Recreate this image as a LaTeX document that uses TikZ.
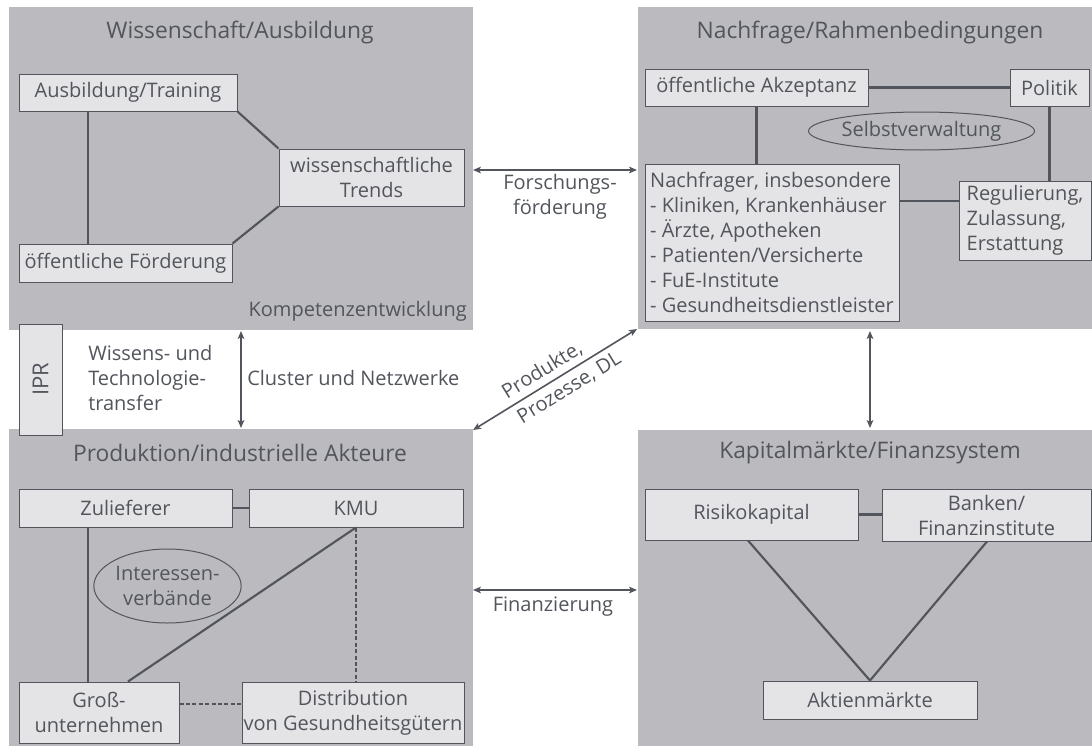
\documentclass[tikz,border=0pt]{standalone}
\usepackage{fontspec}
\setmainfont{Open Sans}
\usetikzlibrary{arrows.meta,shapes.geometric}
\definecolor{panel}{HTML}{BBBBBF}
\definecolor{boxfill}{HTML}{E4E4E6}
\definecolor{ink}{HTML}{52555C}
\newcommand{\bodyf}{\fontsize{15}{18.75}\selectfont}
\newcommand{\titlef}{\fontsize{17.1}{21}\selectfont}
\begin{document}
\begin{tikzpicture}[x=0.75pt,y=-0.75pt,
  panelbox/.style={fill=panel,draw=none},
  box/.style={draw=ink,fill=boxfill,line width=0.75pt,inner sep=0pt,text=ink,font=\bodyf,align=center},
  oval/.style={ellipse,draw=ink,line width=0.75pt,inner sep=0pt,text=ink,font=\bodyf,align=center},
  ttl/.style={text=ink,font=\titlef,inner sep=0pt},
  lbl/.style={text=ink,font=\bodyf,inner sep=0pt},
  link/.style={draw=ink,line width=1.6pt},
  dlink/.style={draw=ink,line width=1.6pt,dash pattern=on 3pt off 1.8pt},
  flow/.style={draw=ink,line width=1.2pt,{Stealth[length=6pt,width=5pt,inset=1.5pt]}-{Stealth[length=6pt,width=5pt,inset=1.5pt]}}]
\useasboundingbox (0,0) rectangle (1092,746);
% panels
\fill[panelbox] (9,7) rectangle (473,330);
\fill[panelbox] (638,7) rectangle (1092,329);
\fill[panelbox] (9,429) rectangle (473,746);
\fill[panelbox] (638,430) rectangle (1092,746);
% titles
\node[ttl] (t1) at (240,33) {Wissenschaft/Ausbildung};
\node[ttl] (t2) at (870,33) {Nachfrage/Rahmenbedingungen};
\node[ttl] (t3) at (240,453) {Produktion/industrielle Akteure};
\node[ttl] (t4) at (870,453) {Kapitalmärkte/Finanzsystem};
% top-left
\node[box,minimum width=163.5pt,minimum height=27.75pt] (AT) at (128,92.5) {Ausbildung/Training};
\node[box,minimum width=138.75pt,minimum height=42.75pt] (WT) at (371.5,177.5) {wissenschaftliche\\Trends};
\node[box,minimum width=159.75pt,minimum height=28.5pt] (OF) at (125.5,263) {öffentliche Förderung};
\node[lbl,anchor=east] (KE) at (467,311) {Kompetenzentwicklung};
\coordinate (v1) at (88,0);
\draw[link] (AT.south -| v1) -- (OF.north -| v1);
\draw[link] (AT.south east) -- (WT.north west);
\draw[link] (OF.north east) -- (WT.south west);
% top-right
\node[box,minimum width=167.25pt,minimum height=27.75pt] (OA) at (756.5,87.5) {öffentliche Akzeptanz};
\node[box,minimum width=59.25pt,minimum height=27.75pt] (PO) at (1049.5,87.5) {Politik};
\node[oval,minimum width=156.75pt,minimum height=28.5pt] (SV) at (921.5,131) {Selbstverwaltung};
\node[box,align=left,minimum width=190.5pt,minimum height=117.75pt] (NF) at (772,242.5) {Nachfrager, insbesondere\\- Kliniken, Krankenhäuser\\- Ärzte, Apotheken\\- Patienten/Versicherte\\- FuE-Institute\\- Gesundheitsdienstleister};
\node[box,align=left,minimum width=99pt,minimum height=59.25pt] (RZ) at (1025,220.5) {Regulierung,\\Zulassung,\\Erstattung};
\coordinate (h1) at (0,201);
\draw[link] (OA.east) -- (PO.west);
\draw[link] (OA.south) -- (OA.south |- NF.north);
\draw[link] (PO.south) -- (PO.south |- RZ.north);
\draw[link] (NF.east |- h1) -- (RZ.west |- h1);
% bottom-left
\node[box,minimum width=159.75pt,minimum height=28.5pt] (ZL) at (125.5,508) {Zulieferer};
\node[box,minimum width=160.5pt,minimum height=28.5pt] (KMU) at (356,508) {KMU};
\node[oval,minimum width=99.75pt,minimum height=55.5pt] (IV) at (167.5,586) {Interessen-\\verbände};
\node[box,minimum width=120pt,minimum height=45.75pt] (GU) at (99,712.5) {Groß-\\unternehmen};
\node[box,minimum width=166.5pt,minimum height=45.75pt] (DG) at (353,712.5) {Distribution\\von Gesundheitsgütern};
\coordinate (v2) at (128,0);
\coordinate (h2) at (0,704);
\draw[link] (ZL.east) -- (KMU.west);
\draw[link] (ZL.south -| v1) -- (GU.north -| v1);
\draw[link] (KMU.south) -- (GU.north -| v2);
\draw[dlink] (KMU.south) -- (KMU.south |- DG.north);
\draw[dlink] (GU.east |- h2) -- (DG.west |- h2);
% bottom-right
\node[box,minimum width=159.75pt,minimum height=38.25pt] (RK) at (751.5,514.5) {Risikokapital};
\node[box,minimum width=156.75pt,minimum height=39pt] (BF) at (986.5,515) {Banken/\\Finanzinstitute};
\node[box,minimum width=160.5pt,minimum height=28.5pt] (AM) at (870,700) {Aktienmärkte};
\coordinate (v3) at (748,0);
\coordinate (v4) at (987,0);
\draw[link] (RK.east) -- (RK.east -| BF.west);
\draw[link] (RK.south -| v3) -- (AM.north);
\draw[link] (BF.south -| v4) -- (AM.north);
% IPR
\node[box,rotate=90,minimum width=83.25pt,minimum height=32.25pt,font=\fontsize{16.5}{18}\selectfont] (IPR) at (40.5,379.5) {IPR};
% flows
\coordinate (a1) at (473,170);
\coordinate (a2) at (637,170);
\coordinate (b1) at (241,331);
\coordinate (b2) at (241,428);
\coordinate (c1) at (870,331);
\coordinate (c2) at (870,428);
\coordinate (d1) at (473,430);
\coordinate (d2) at (637,329);
\coordinate (e1) at (473,590);
\coordinate (e2) at (637,590);
\draw[flow] (a1) -- (a2);
\draw[flow] (b1) -- (b2);
\draw[flow] (c1) -- (c2);
\draw[flow] (d1) -- node[lbl,sloped,align=left,pos=0.54] (PP) {Produkte,\\[3pt]Prozesse, DL} (d2);
\draw[flow] (e1) -- (e2);
\node[lbl,align=center] (FF) at (560,197) {Forschungs-\\förderung};
\node[lbl] (FI) at (553,607) {Finanzierung};
\node[lbl,align=left,anchor=west] (WTT) at (88,378) {Wissens- und\\Technologie-\\transfer};
\node[lbl,anchor=west] (CN) at (247,378) {Cluster und Netzwerke};
\end{tikzpicture}
\end{document}
